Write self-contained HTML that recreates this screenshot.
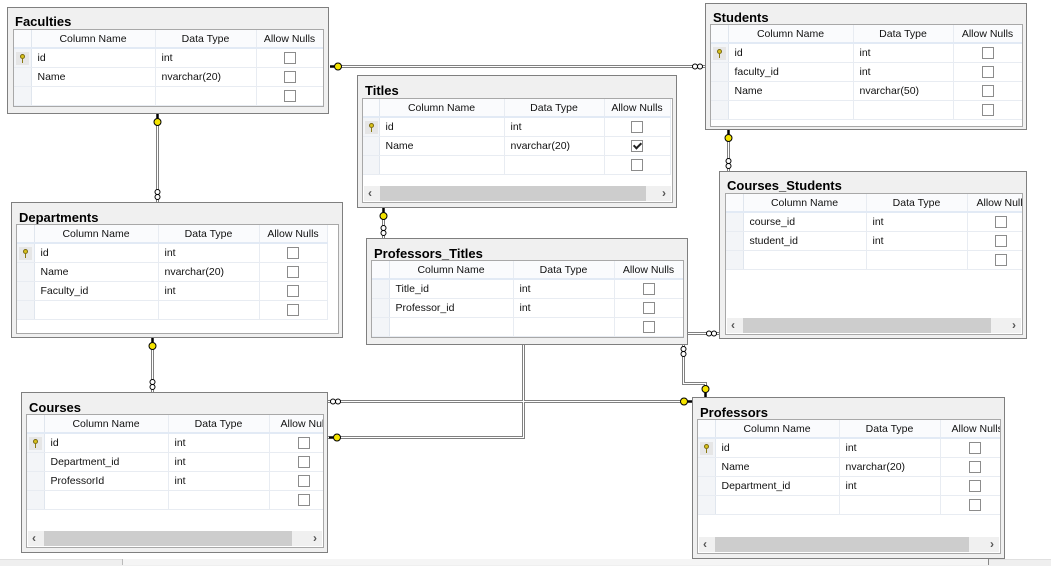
<!DOCTYPE html>
<html><head><meta charset="utf-8"><style>
body{margin:0;width:1051px;height:565px;background:#fff;position:relative;overflow:hidden;font-family:"Liberation Sans",sans-serif;}
.box{position:absolute;box-sizing:border-box;border:1px solid #7f7f7f;background:#f0f0f0;}
.ttl{position:absolute;left:7px;font-size:13px;font-weight:bold;color:#000;line-height:16px;}
.grid{position:absolute;box-sizing:border-box;border:1px solid #a8a8a8;background:#fff;overflow:hidden;}
table{border-collapse:collapse;table-layout:fixed;font-size:10.5px;color:#111;}
td{height:18px;padding:0;border-right:1px solid #e8ecf2;border-bottom:1px solid #e8ecf2;white-space:nowrap;overflow:hidden;}
tr.h td{background:#fafbfd;text-align:center;border-bottom:2px solid #e2eaf5;height:17px;}
td.s{background:#f3f5f8;border-right:1px solid #e0e6ee;}
td.n{padding-left:6px;}
td.t{padding-left:6px;}
td.c{text-align:center;}
.cb{display:inline-block;width:10px;height:10px;border:1px solid #8c8c8c;background:#fff;vertical-align:middle;position:relative;}
.ck:after{content:"";position:absolute;left:3px;top:0px;width:3px;height:6px;border:solid #222;border-width:0 2px 2px 0;transform:rotate(45deg);}
.key{display:inline-block;width:13px;height:13px;background:#e6e6e6;margin-left:2px;vertical-align:middle;position:relative;}
.key:before{content:"";position:absolute;left:4px;top:2px;width:5px;height:5px;border-radius:50%;background:#d9c21a;border:1px solid #7a6a10;box-sizing:border-box;}
.key:after{content:"";position:absolute;left:6px;top:7px;width:1px;height:4px;background:#8a7a10;}
.sb{position:absolute;left:1px;right:1px;height:15px;background:#f0f0f0;}
.sb .th{position:absolute;left:16px;top:0;bottom:0;background:#cdcdcd;}
.sb .la,.sb .ra{position:absolute;top:0;font-size:12px;line-height:15px;color:#555;font-weight:bold;}
.sb .la{left:4px}.sb .ra{right:5px}
</style></head><body>

<svg width="1051" height="565" style="position:absolute;left:0;top:0" shape-rendering="crispEdges">
<g fill="none" stroke="#808080" stroke-width="3">
<path d="M330 66.5H705"/><path d="M157.5 114V202"/><path d="M383.5 208V238"/><path d="M728.5 130V171"/>
<path d="M152.5 338V392"/><path d="M328 401.5H692"/><path d="M523.5 345V437.5H328"/><path d="M688 333.5H719"/>
<path d="M683.5 345V383.5H705.5V397"/>
</g>
<g fill="none" stroke="#fff" stroke-width="1">
<path d="M330 66.5H705"/><path d="M157.5 114V202"/><path d="M383.5 208V238"/><path d="M728.5 130V171"/>
<path d="M152.5 338V392"/><path d="M328 401.5H692"/><path d="M523.5 345V437.5H328"/><path d="M688 333.5H719"/>
<path d="M683.5 345V383.5H705.5V397"/>
</g>
</svg>
<svg width="1051" height="565" style="position:absolute;left:0;top:0">
<g fill="#fff" stroke="#000" stroke-width="1">
<circle cx="695" cy="66.5" r="2.5"/><circle cx="700" cy="66.5" r="2.5"/>
<circle cx="157.5" cy="192" r="2.5"/><circle cx="157.5" cy="197" r="2.5"/>
<circle cx="383.5" cy="228" r="2.5"/><circle cx="383.5" cy="233" r="2.5"/>
<circle cx="728.5" cy="161" r="2.5"/><circle cx="728.5" cy="166" r="2.5"/>
<circle cx="152.5" cy="382" r="2.5"/><circle cx="152.5" cy="387" r="2.5"/>
<circle cx="333" cy="401.5" r="2.5"/><circle cx="338" cy="401.5" r="2.5"/>
<circle cx="709" cy="333.5" r="2.5"/><circle cx="714" cy="333.5" r="2.5"/>
<circle cx="683.5" cy="349" r="2.5"/><circle cx="683.5" cy="354" r="2.5"/>
</g>
<g fill="#f5e400" stroke="#000" stroke-width="1">
<circle cx="338" cy="66.5" r="3.5"/><path d="M330 66.5H334" stroke-width="2"/>
<circle cx="157.5" cy="122" r="3.5"/><path d="M157.5 114V118" stroke-width="2"/>
<circle cx="383.5" cy="216" r="3.5"/><path d="M383.5 208V212" stroke-width="2"/>
<circle cx="728.5" cy="138" r="3.5"/><path d="M728.5 130V134" stroke-width="2"/>
<circle cx="152.5" cy="346" r="3.5"/><path d="M152.5 338V342" stroke-width="2"/>
<circle cx="684" cy="401.5" r="3.5"/><path d="M688 401.5H692" stroke-width="2"/>
<circle cx="337" cy="437.5" r="3.5"/><path d="M329 437.5H333" stroke-width="2"/>
<circle cx="705.5" cy="389" r="3.5"/><path d="M705.5 393V397" stroke-width="2"/>
</g>
</svg>

<!-- Faculties -->
<div class="box" style="left:7px;top:7px;width:322px;height:107px">
<div class="ttl" style="top:6px">Faculties</div>
<div class="grid" style="left:5px;top:21px;width:311px;height:78px">
<table style="width:309px"><colgroup><col style="width:17px"><col style="width:124px"><col style="width:101px"><col style="width:67px"></colgroup>
<tr class="h"><td class="s"></td><td>Column Name</td><td>Data Type</td><td>Allow Nulls</td></tr>
<tr><td class="s"><span class="key"></span></td><td class="n">id</td><td class="t">int</td><td class="c"><span class="cb"></span></td></tr>
<tr><td class="s"></td><td class="n">Name</td><td class="t">nvarchar(20)</td><td class="c"><span class="cb"></span></td></tr>
<tr><td class="s"></td><td class="n"></td><td class="t"></td><td class="c"><span class="cb"></span></td></tr>
</table></div></div>

<!-- Students -->
<div class="box" style="left:705px;top:3px;width:322px;height:127px">
<div class="ttl" style="top:6px">Students</div>
<div class="grid" style="left:4px;top:20px;width:313px;height:103px">
<table style="width:311px"><colgroup><col style="width:17px"><col style="width:125px"><col style="width:100px"><col style="width:69px"></colgroup>
<tr class="h"><td class="s"></td><td>Column Name</td><td>Data Type</td><td>Allow Nulls</td></tr>
<tr><td class="s"><span class="key"></span></td><td class="n">id</td><td class="t">int</td><td class="c"><span class="cb"></span></td></tr>
<tr><td class="s"></td><td class="n">faculty_id</td><td class="t">int</td><td class="c"><span class="cb"></span></td></tr>
<tr><td class="s"></td><td class="n">Name</td><td class="t">nvarchar(50)</td><td class="c"><span class="cb"></span></td></tr>
<tr><td class="s"></td><td class="n"></td><td class="t"></td><td class="c"><span class="cb"></span></td></tr>
</table></div></div>

<!-- Titles -->
<div class="box" style="left:357px;top:75px;width:320px;height:133px">
<div class="ttl" style="top:7px">Titles</div>
<div class="grid" style="left:4px;top:22px;width:311px;height:105px">
<table style="width:307px"><colgroup><col style="width:16px"><col style="width:125px"><col style="width:100px"><col style="width:66px"></colgroup>
<tr class="h"><td class="s"></td><td>Column Name</td><td>Data Type</td><td>Allow Nulls</td></tr>
<tr><td class="s"><span class="key"></span></td><td class="n">id</td><td class="t">int</td><td class="c"><span class="cb"></span></td></tr>
<tr><td class="s"></td><td class="n">Name</td><td class="t">nvarchar(20)</td><td class="c"><span class="cb ck"></span></td></tr>
<tr><td class="s"></td><td class="n"></td><td class="t"></td><td class="c"><span class="cb"></span></td></tr>
</table>
<div class="sb" style="top:87px"><span class="la">‹</span><div class="th" style="right:25px"></div><span class="ra">›</span></div>
</div></div>

<!-- Courses_Students -->
<div class="box" style="left:719px;top:171px;width:308px;height:168px">
<div class="ttl" style="top:6px">Courses_Students</div>
<div class="grid" style="left:5px;top:21px;width:298px;height:142px">
<table style="width:320px"><colgroup><col style="width:17px"><col style="width:123px"><col style="width:101px"><col style="width:79px"></colgroup>
<tr class="h"><td class="s"></td><td>Column Name</td><td>Data Type</td><td style="text-align:left;padding-left:9px">Allow Nulls</td></tr>
<tr><td class="s"></td><td class="n">course_id</td><td class="t">int</td><td style="padding-left:27px"><span class="cb"></span></td></tr>
<tr><td class="s"></td><td class="n">student_id</td><td class="t">int</td><td style="padding-left:27px"><span class="cb"></span></td></tr>
<tr><td class="s"></td><td class="n"></td><td class="t"></td><td style="padding-left:27px"><span class="cb"></span></td></tr>
</table>
<div class="sb" style="top:124px"><span class="la">‹</span><div class="th" style="right:30px"></div><span class="ra">›</span></div>
</div></div>

<!-- Departments -->
<div class="box" style="left:11px;top:202px;width:332px;height:136px">
<div class="ttl" style="top:7px">Departments</div>
<div class="grid" style="left:4px;top:21px;width:323px;height:110px">
<table style="width:310px"><colgroup><col style="width:17px"><col style="width:124px"><col style="width:101px"><col style="width:68px"></colgroup>
<tr class="h"><td class="s"></td><td>Column Name</td><td>Data Type</td><td>Allow Nulls</td></tr>
<tr><td class="s"><span class="key"></span></td><td class="n">id</td><td class="t">int</td><td class="c"><span class="cb"></span></td></tr>
<tr><td class="s"></td><td class="n">Name</td><td class="t">nvarchar(20)</td><td class="c"><span class="cb"></span></td></tr>
<tr><td class="s"></td><td class="n">Faculty_id</td><td class="t">int</td><td class="c"><span class="cb"></span></td></tr>
<tr><td class="s"></td><td class="n"></td><td class="t"></td><td class="c"><span class="cb"></span></td></tr>
</table></div></div>

<!-- Professors_Titles -->
<div class="box" style="left:366px;top:238px;width:322px;height:107px">
<div class="ttl" style="top:7px">Professors_Titles</div>
<div class="grid" style="left:4px;top:21px;width:313px;height:78px">
<table style="width:311px"><colgroup><col style="width:17px"><col style="width:124px"><col style="width:101px"><col style="width:69px"></colgroup>
<tr class="h"><td class="s"></td><td>Column Name</td><td>Data Type</td><td>Allow Nulls</td></tr>
<tr><td class="s"></td><td class="n">Title_id</td><td class="t">int</td><td class="c"><span class="cb"></span></td></tr>
<tr><td class="s"></td><td class="n">Professor_id</td><td class="t">int</td><td class="c"><span class="cb"></span></td></tr>
<tr><td class="s"></td><td class="n"></td><td class="t"></td><td class="c"><span class="cb"></span></td></tr>
</table></div></div>

<!-- Courses -->
<div class="box" style="left:21px;top:392px;width:307px;height:161px">
<div class="ttl" style="top:7px">Courses</div>
<div class="grid" style="left:4px;top:21px;width:298px;height:134px">
<table style="width:320px"><colgroup><col style="width:17px"><col style="width:124px"><col style="width:101px"><col style="width:78px"></colgroup>
<tr class="h"><td class="s"></td><td>Column Name</td><td>Data Type</td><td style="text-align:left;padding-left:11px">Allow Nulls</td></tr>
<tr><td class="s"><span class="key"></span></td><td class="n">id</td><td class="t">int</td><td style="padding-left:28px"><span class="cb"></span></td></tr>
<tr><td class="s"></td><td class="n">Department_id</td><td class="t">int</td><td style="padding-left:28px"><span class="cb"></span></td></tr>
<tr><td class="s"></td><td class="n">ProfessorId</td><td class="t">int</td><td style="padding-left:28px"><span class="cb"></span></td></tr>
<tr><td class="s"></td><td class="n"></td><td class="t"></td><td style="padding-left:28px"><span class="cb"></span></td></tr>
</table>
<div class="sb" style="top:116px"><span class="la">‹</span><div class="th" style="right:30px"></div><span class="ra">›</span></div>
</div></div>

<!-- Professors -->
<div class="box" style="left:692px;top:397px;width:313px;height:162px">
<div class="ttl" style="top:7px">Professors</div>
<div class="grid" style="left:4px;top:21px;width:304px;height:135px">
<table style="width:320px"><colgroup><col style="width:17px"><col style="width:124px"><col style="width:101px"><col style="width:78px"></colgroup>
<tr class="h"><td class="s"></td><td>Column Name</td><td>Data Type</td><td style="text-align:left;padding-left:11px">Allow Nulls</td></tr>
<tr><td class="s"><span class="key"></span></td><td class="n">id</td><td class="t">int</td><td style="padding-left:28px"><span class="cb"></span></td></tr>
<tr><td class="s"></td><td class="n">Name</td><td class="t">nvarchar(20)</td><td style="padding-left:28px"><span class="cb"></span></td></tr>
<tr><td class="s"></td><td class="n">Department_id</td><td class="t">int</td><td style="padding-left:28px"><span class="cb"></span></td></tr>
<tr><td class="s"></td><td class="n"></td><td class="t"></td><td style="padding-left:28px"><span class="cb"></span></td></tr>
</table>
<div class="sb" style="top:117px"><span class="la">‹</span><div class="th" style="right:30px"></div><span class="ra">›</span></div>
</div></div>

<div style="position:absolute;left:0;top:559px;width:1051px;height:6px;background:#efefef;border-top:1px solid #e0e0e0"></div>
<div style="position:absolute;left:122px;top:559px;width:865px;height:6px;background:#f5f5f5;border-left:1px solid #bbb;border-right:1px solid #888"></div>
</body></html>
